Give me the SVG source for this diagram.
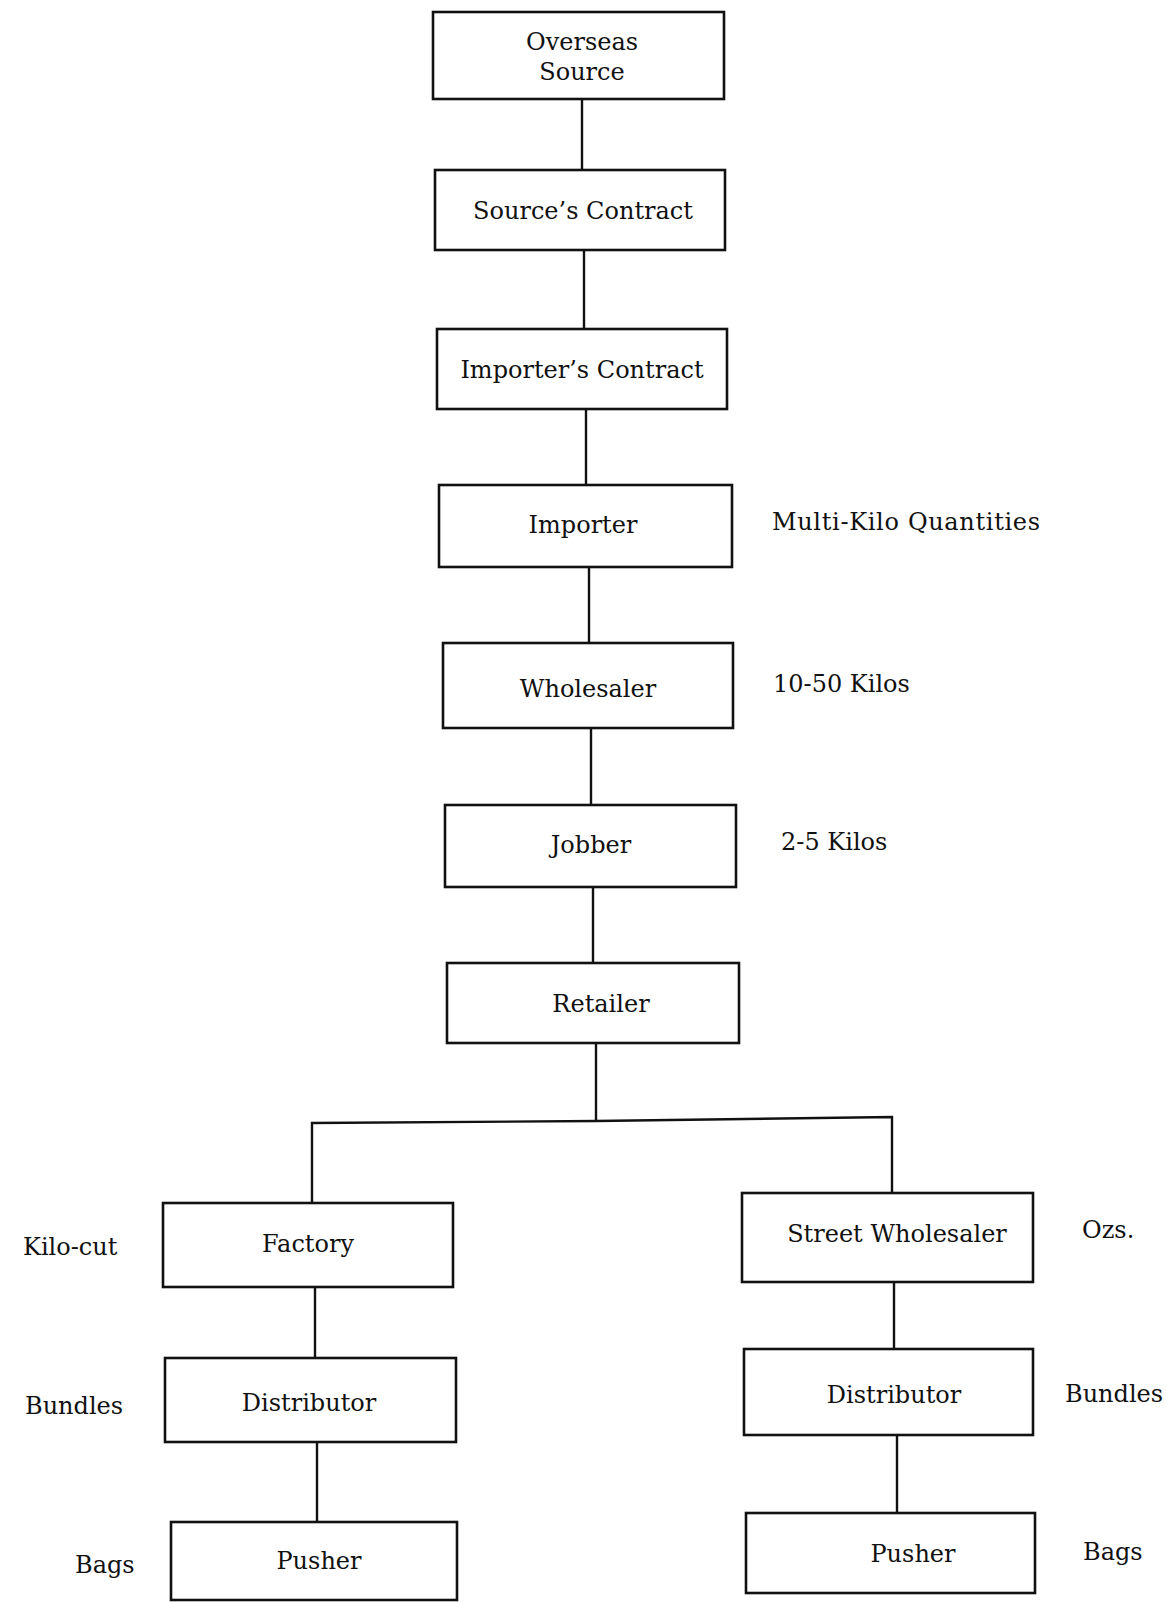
<svg xmlns="http://www.w3.org/2000/svg" width="1166" height="1602" viewBox="0 0 1166 1602">
<style>
.box{fill:none;stroke:#111;stroke-width:2.6}
.ln{fill:none;stroke:#111;stroke-width:2.4}
text{font-family:"DejaVu Serif","Liberation Serif",serif;font-size:24px;fill:#111}
.c{text-anchor:middle}
</style>
<rect width="1166" height="1602" fill="#fff"/>
<g id="connectors">
<line class="ln" x1="582" y1="99" x2="582" y2="170"/>
<line class="ln" x1="584" y1="250" x2="584" y2="329"/>
<line class="ln" x1="586" y1="409" x2="586" y2="485"/>
<line class="ln" x1="589" y1="567" x2="589" y2="643"/>
<line class="ln" x1="591" y1="728" x2="591" y2="805"/>
<line class="ln" x1="593" y1="887" x2="593" y2="963"/>
<line class="ln" x1="596" y1="1043" x2="596" y2="1122"/>
<polyline class="ln" points="312,1203 312,1123 596,1121 892,1117 892,1193"/>
<line class="ln" x1="315" y1="1287" x2="315" y2="1358"/>
<line class="ln" x1="317" y1="1442" x2="317" y2="1522"/>
<line class="ln" x1="894" y1="1282" x2="894" y2="1349"/>
<line class="ln" x1="897" y1="1435" x2="897" y2="1513"/>
</g>
<g id="overseas-source"><rect class="box" x="433" y="12" width="291" height="87"/><text class="c" x="582" y="50">Overseas</text><text class="c" x="582" y="80">Source</text></g>
<g id="sources-contract"><rect class="box" x="435" y="170" width="290" height="80"/><text class="c" x="583" y="219">Source’s Contract</text></g>
<g id="importers-contract"><rect class="box" x="437" y="329" width="290" height="80"/><text class="c" x="582" y="378">Importer’s Contract</text></g>
<g id="importer"><rect class="box" x="439" y="485" width="293" height="82"/><text class="c" x="583" y="533">Importer</text></g>
<g id="wholesaler"><rect class="box" x="443" y="643" width="290" height="85"/><text class="c" x="588" y="697">Wholesaler</text></g>
<g id="jobber"><rect class="box" x="445" y="805" width="291" height="82"/><text class="c" x="591" y="853">Jobber</text></g>
<g id="retailer"><rect class="box" x="447" y="963" width="292" height="80"/><text class="c" x="601" y="1012">Retailer</text></g>
<g id="factory"><rect class="box" x="163" y="1203" width="290" height="84"/><text class="c" x="308" y="1252">Factory</text></g>
<g id="distributor-left"><rect class="box" x="165" y="1358" width="291" height="84"/><text class="c" x="309" y="1411">Distributor</text></g>
<g id="pusher-left"><rect class="box" x="171" y="1522" width="286" height="78"/><text class="c" x="319" y="1569">Pusher</text></g>
<g id="street-wholesaler"><rect class="box" x="742" y="1193" width="291" height="89"/><text class="c" x="897" y="1242">Street Wholesaler</text></g>
<g id="distributor-right"><rect class="box" x="744" y="1349" width="289" height="86"/><text class="c" x="894" y="1403">Distributor</text></g>
<g id="pusher-right"><rect class="box" x="746" y="1513" width="289" height="80"/><text class="c" x="913" y="1562">Pusher</text></g>
<g id="labels">
<text x="772" y="530" textLength="268">Multi-Kilo Quantities</text>
<text x="773" y="692">10-50 Kilos</text>
<text x="781" y="850">2-5 Kilos</text>
<text x="1082" y="1238">Ozs.</text>
<text x="1065" y="1402">Bundles</text>
<text x="1083" y="1560">Bags</text>
<text x="23" y="1255">Kilo-cut</text>
<text x="25" y="1414">Bundles</text>
<text x="75" y="1573">Bags</text>
</g>
</svg>
